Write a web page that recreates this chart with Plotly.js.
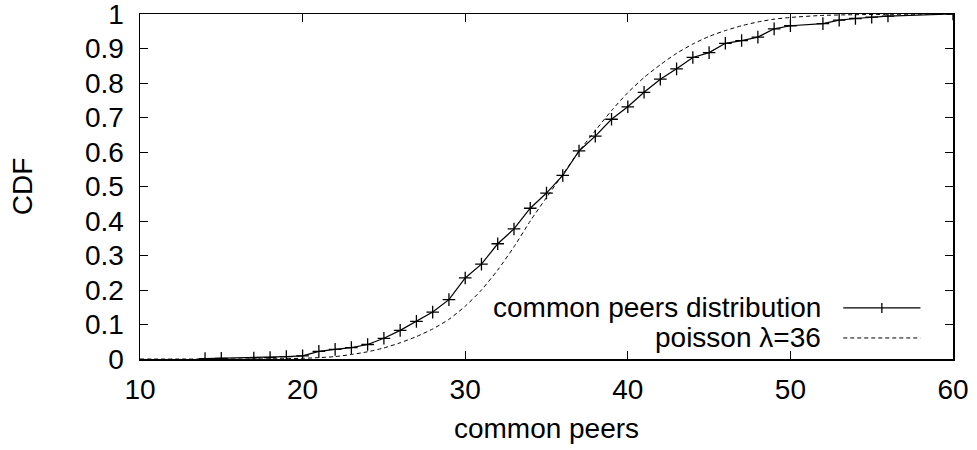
<!DOCTYPE html>
<html>
<head>
<meta charset="utf-8">
<script src="https://cdn.plot.ly/plotly-3.0.1.min.js"></script>
<style>html,body{margin:0;padding:0;background:#fff;}#chart{width:977px;height:450px;}</style>
</head>
<body>
<div id="chart"></div>
<script>
var peersX = [14,15,17,18,19,20,21,22,23,24,25,26,27,28,29,30,31,32,33,34,35,36,37,38,39,40,41,42,43,44,45,46,47,48,49,50,52,53,54,55,56,60];
var peersCdf = [0.001,0.002,0.003,0.004,0.007,0.009,0.022,0.028,0.033,0.042,0.06,0.083,0.109,0.136,0.172,0.235,0.275,0.334,0.377,0.437,0.481,0.532,0.603,0.646,0.695,0.731,0.773,0.811,0.841,0.874,0.888,0.915,0.923,0.933,0.957,0.966,0.972,0.982,0.987,0.991,0.994,1.0];

// Poisson lambda=36 CDF curve
var poisX = [10,17,19,20,21,22,23,24,25,26,27,28,29,30,31,32,33,34,35,36,37,38,39,40,41,42,43,44,45,46,47,48,49,50,52,54,56,60];
var poisCdf = [0,0,0.001,0.002,0.004,0.007,0.013,0.021,0.032,0.047,0.065,0.087,0.115,0.153,0.2,0.258,0.325,0.4,0.468,0.535,0.602,0.662,0.72,0.772,0.816,0.853,0.886,0.913,0.935,0.952,0.966,0.977,0.985,0.99,0.996,0.998,0.999,1.0];

var xTicks = [10,20,30,40,50,60];
var yTicks = [0,0.1,0.2,0.3,0.4,0.5,0.6,0.7,0.8,0.9,1];
var yTickText = ['0','0.1','0.2','0.3','0.4','0.5','0.6','0.7','0.8','0.9','1'];

var seriesNames = ['common peers distribution', 'poisson \u03bb=36'];

var FONT = 'Liberation Sans, Arial, Helvetica, sans-serif';
var FS = 28;

var traces = [
  {
    x: peersX, y: peersCdf, type: 'scatter', mode: 'lines+markers',
    name: seriesNames[0],
    line: {color: '#000', width: 1.2},
    marker: {symbol: 'cross-thin-open', size: 9, line: {color: '#000', width: 1.3}},
    showlegend: false
  },
  {
    x: poisX, y: poisCdf, type: 'scatter', mode: 'lines',
    name: seriesNames[1],
    line: {color: '#000', width: 1, dash: '4px,3px', shape: 'spline', smoothing: 0.6},
    showlegend: false
  }
];

var axisCommon = {
  showline: true, linecolor: '#000', linewidth: 1.5,
  mirror: 'allticks', ticks: 'inside', ticklen: 8, tickwidth: 1, tickcolor: '#000',
  showgrid: false, zeroline: false, ticklabeloverflow: 'allow',
  tickfont: {family: FONT, size: FS, color: '#000'}
};

var layout = {
  width: 977, height: 450,
  margin: {l: 140, r: 24, t: 14, b: 91},
  paper_bgcolor: '#fff', plot_bgcolor: '#fff',
  font: {family: FONT, size: FS, color: '#000'},
  xaxis: Object.assign({}, axisCommon, {
    range: [10, 60], tickmode: 'array', tickvals: xTicks,
    ticklabelstandoff: 5,
    title: {text: 'common peers', font: {family: FONT, size: FS, color: '#000'}, standoff: 14}
  }),
  yaxis: Object.assign({}, axisCommon, {
    range: [0, 1], tickmode: 'array', tickvals: yTicks, ticktext: yTickText,
    ticklabelstandoff: 9,
    title: {text: 'CDF', font: {family: FONT, size: FS, color: '#000'}, standoff: 44}
  }),
  annotations: [
    {xref: 'paper', yref: 'paper', x: 0.840, y: 0.148, xanchor: 'right', yanchor: 'middle',
     text: seriesNames[0], showarrow: false, font: {family: FONT, size: FS, color: '#000'}},
    {xref: 'paper', yref: 'paper', x: 0.840, y: 0.061, xanchor: 'right', yanchor: 'middle',
     text: seriesNames[1], showarrow: false, font: {family: FONT, size: FS, color: '#000'}}
  ],
  shapes: [
    {type: 'line', xref: 'paper', yref: 'paper', x0: 0.865, x1: 0.960, y0: 0.148, y1: 0.148,
     line: {color: '#000', width: 1.2}},
    {type: 'line', xref: 'paper', yref: 'paper', xsizemode: 'scaled', ysizemode: 'pixel',
     yanchor: 0.148, x0: 0.9125, x1: 0.9125, y0: -5, y1: 5, line: {color: '#000', width: 1.3}},
    {type: 'line', xref: 'paper', yref: 'paper', x0: 0.865, x1: 0.960, y0: 0.061, y1: 0.061,
     line: {color: '#000', width: 1, dash: '4px,3px'}}
  ]
};

Plotly.newPlot('chart', traces, layout, {displayModeBar: false, staticPlot: true});
</script>
</body>
</html>
